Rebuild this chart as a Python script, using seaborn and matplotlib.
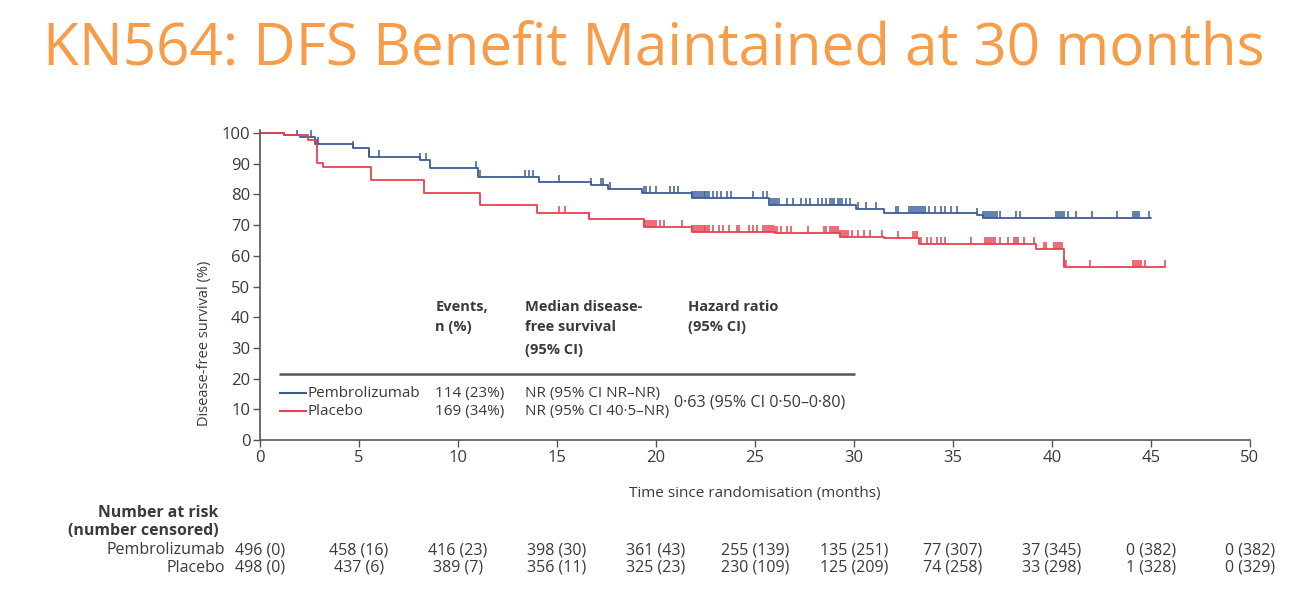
import numpy as np
import pandas as pd
import matplotlib.pyplot as plt
import seaborn as sns

# Kaplan-Meier steps (time in months, survival in %)
pembro_t = [0, 1.2, 2.0, 2.8, 4.7, 5.5, 8.1, 8.6, 11.0, 14.1, 16.7, 17.6, 19.3,
            21.8, 25.7, 30.1, 31.5, 36.2, 36.5, 45.0]
pembro_s = [100, 99.5, 98.8, 96.4, 95.0, 92.3, 91.2, 88.5, 85.8, 84.2, 83.1, 81.7, 80.6,
            79.0, 76.5, 75.1, 74.1, 73.3, 72.2, 72.2]

placebo_t = [0, 1.2, 2.4, 2.9, 3.2, 5.6, 8.3, 11.1, 14.0, 16.6, 19.4, 21.8, 26.0,
             29.3, 31.5, 33.3, 39.2, 40.6, 45.7]
placebo_s = [100, 99.5, 97.7, 90.1, 89.0, 84.7, 80.4, 76.5, 73.8, 71.9, 69.5, 67.9, 67.6,
             66.2, 65.7, 63.8, 62.1, 56.4, 56.4]

# censoring marks (months)
pembro_censor = [1.85, 2.6, 2.95, 4.7, 5.5, 6.0, 8.1, 8.4, 10.9, 11.1, 13.4, 13.6, 13.8,
                 15.1, 16.7, 17.2, 17.3, 17.7, 19.4, 19.5, 19.7, 20.0, 20.7, 20.9, 21.1,
                 21.8, 21.9, 22.0, 22.1, 22.2, 22.3, 22.4, 22.5, 22.6, 22.7, 22.9,
                 23.1, 23.3, 23.6, 23.8, 24.9, 25.4, 25.6, 25.8, 25.9, 26.0, 26.1, 26.2,
                 26.6, 26.9, 27.3, 27.6, 27.8, 28.2, 28.4, 28.6, 28.8, 28.9, 29.0, 29.2,
                 29.3, 29.4, 29.6, 29.8, 30.2, 30.6, 31.1, 32.1, 32.2, 32.8, 32.9, 33.0,
                 33.1, 33.2, 33.3, 33.4, 33.5, 33.6, 33.8, 34.1, 34.4, 34.6, 34.9, 35.2,
                 36.2, 36.5, 36.6, 36.7, 36.8, 36.9, 37.0, 37.1, 37.2, 37.4, 38.2, 38.4,
                 40.2, 40.3, 40.4, 40.5, 40.6, 40.8, 41.2, 42.0, 43.3, 44.1, 44.2, 44.3,
                 44.4, 44.9]
placebo_censor = [15.1, 15.4, 16.6, 19.4, 19.5, 19.6, 19.7, 19.8, 19.9, 20.0, 20.2, 20.4,
                  21.3, 21.8, 21.9, 22.0, 22.1, 22.2, 22.3, 22.4, 22.5, 22.6, 22.7, 22.9,
                  23.2, 23.4, 23.7, 24.1, 24.2, 24.7, 24.9, 25.1, 25.4, 25.5, 25.6, 25.7,
                  25.8, 25.9, 26.0, 26.1, 26.3, 26.6, 26.8, 27.7, 28.5, 28.6, 28.8, 28.9,
                  29.0, 29.1, 29.2, 29.3, 29.4, 29.5, 29.6, 29.7, 29.9, 30.2, 30.5, 30.8,
                  31.4, 32.2, 33.0, 33.1, 33.2, 33.4, 33.7, 33.9, 34.2, 34.4, 34.6, 35.9,
                  36.6, 36.7, 36.8, 36.9, 37.0, 37.1, 37.4, 37.8, 38.1, 38.2, 38.3, 38.6,
                  39.1, 39.6, 39.7, 40.1, 40.2, 40.3, 40.4, 40.5, 40.6, 40.7, 41.9,
                  44.1, 44.2, 44.3, 44.4, 44.5, 44.7, 45.7]

arms = ['Pembrolizumab', 'Placebo']
colors = {'Pembrolizumab': '#3b5c98', 'Placebo': '#e8414f'}
events = ['114 (23%)', '169 (34%)']
medians = ['NR (95% CI NR–NR)', 'NR (95% CI 40·5–NR)']
hazard = '0·63 (95% CI 0·50–0·80)'

risk_times = [0, 5, 10, 15, 20, 25, 30, 35, 40, 45, 50]
risk_pembro = ['496 (0)', '458 (16)', '416 (23)', '398 (30)', '361 (43)', '255 (139)',
               '135 (251)', '77 (307)', '37 (345)', '0 (382)', '0 (382)']
risk_placebo = ['498 (0)', '437 (6)', '389 (7)', '356 (11)', '325 (23)', '230 (109)',
                '125 (209)', '74 (258)', '33 (298)', '1 (328)', '0 (329)']

sns.set_theme(style="ticks")
plt.rcParams['font.family'] = ['Open Sans', 'DejaVu Sans']
text_col = '#3a3a3a'

curves = pd.concat([
    pd.DataFrame({'time': pembro_t, 'surv': pembro_s, 'arm': 'Pembrolizumab'}),
    pd.DataFrame({'time': placebo_t, 'surv': placebo_s, 'arm': 'Placebo'}),
])


def step_value(times, surv, t):
    idx = np.searchsorted(times, t, side='right') - 1
    return np.asarray(surv)[idx]


censor = pd.concat([
    pd.DataFrame({'time': pembro_censor,
                  'surv': step_value(pembro_t, pembro_s, pembro_censor),
                  'arm': 'Pembrolizumab'}),
    pd.DataFrame({'time': placebo_censor,
                  'surv': step_value(placebo_t, placebo_s, placebo_censor),
                  'arm': 'Placebo'}),
])

fig = plt.figure(figsize=(12.98, 5.92), dpi=100)
ax = fig.add_axes([0.2003, 0.2568, 0.7627, 0.5236])

sns.lineplot(data=curves, x='time', y='surv', hue='arm', palette=colors,
             drawstyle='steps-post', estimator=None, legend=False, linewidth=1.3, ax=ax)
for arm in arms:
    sub = censor[censor['arm'] == arm]
    sns.scatterplot(data=sub, x='time', y='surv', marker=[(0, 0), (0, 1)], s=90,
                    color=colors[arm], edgecolor=colors[arm], linewidth=1.1,
                    legend=False, ax=ax, zorder=3)

ax.set_xlim(0, 50)
ax.set_ylim(0, 101)
ax.set_xticks(range(0, 51, 5))
ax.set_yticks(range(0, 101, 10))
sns.despine(ax=ax)
for sp in ['left', 'bottom']:
    ax.spines[sp].set_color('#555555')
    ax.spines[sp].set_linewidth(1.2)
ax.tick_params(axis='both', direction='out', length=5, width=1, color='#555555',
               labelsize=12, labelcolor=text_col, pad=2)
ax.set_xlabel('Time since randomisation (months)', fontsize=11, color=text_col)
ax.set_ylabel('Disease-free survival (%)', fontsize=10.5, color=text_col)
ax.xaxis.set_label_coords(0.5, -0.15)
ax.yaxis.set_label_coords(-0.048, 0.313)

# inset table
head_kw = dict(fontsize=10.5, fontweight='bold', color=text_col, va='center', ha='left')
ax.text(8.86, 43.2, 'Events,', **head_kw)
ax.text(8.86, 36.7, 'n (%)', **head_kw)
ax.text(13.37, 43.2, 'Median disease-', **head_kw)
ax.text(13.37, 36.7, 'free survival', **head_kw)
ax.text(13.37, 29.4, '(95% CI)', **head_kw)
ax.text(21.6, 43.2, 'Hazard ratio', **head_kw)
ax.text(21.6, 36.7, '(95% CI)', **head_kw)
ax.hlines(21.4, 0.96, 30.05, color='#555555', linewidth=1.8)

body_kw = dict(fontsize=11, color=text_col, va='center', ha='left')
for i, arm in enumerate(arms):
    yy = [15.3, 9.4][i]
    ax.hlines(yy, 0.96, 2.35, color=colors[arm], linewidth=1.5)
    ax.text(2.42, yy, arm, **body_kw)
    ax.text(8.86, yy, events[i], **body_kw)
    ax.text(13.37, yy, medians[i], **body_kw)
ax.text(20.9, 12.3, hazard, fontsize=11.6, color=text_col, va='center', ha='left')

# number at risk table
tr = ax.get_xaxis_transform()
ax.text(-2.1, -0.235, 'Number at risk', transform=tr, ha='right', va='center',
        fontsize=11.4, fontweight='bold', color=text_col)
ax.text(-2.1, -0.294, '(number censored)', transform=tr, ha='right', va='center',
        fontsize=11.4, fontweight='bold', color=text_col)
for arm, row, yy in [('Pembrolizumab', risk_pembro, -0.355), ('Placebo', risk_placebo, -0.413)]:
    ax.text(-1.75, yy, arm, transform=tr, ha='right', va='center', fontsize=11.5,
            color=text_col)
    for t, lab in zip(risk_times, row):
        ax.text(t, yy, lab, transform=tr, ha='center', va='center', fontsize=11.5,
                color=text_col)

fig.text(0.033, 0.890, 'KN564: DFS Benefit Maintained at 30 months', fontsize=42,
         color='#f79d4a', ha='left', va='baseline')

fig.savefig('out.png', dpi=100, facecolor='white')
